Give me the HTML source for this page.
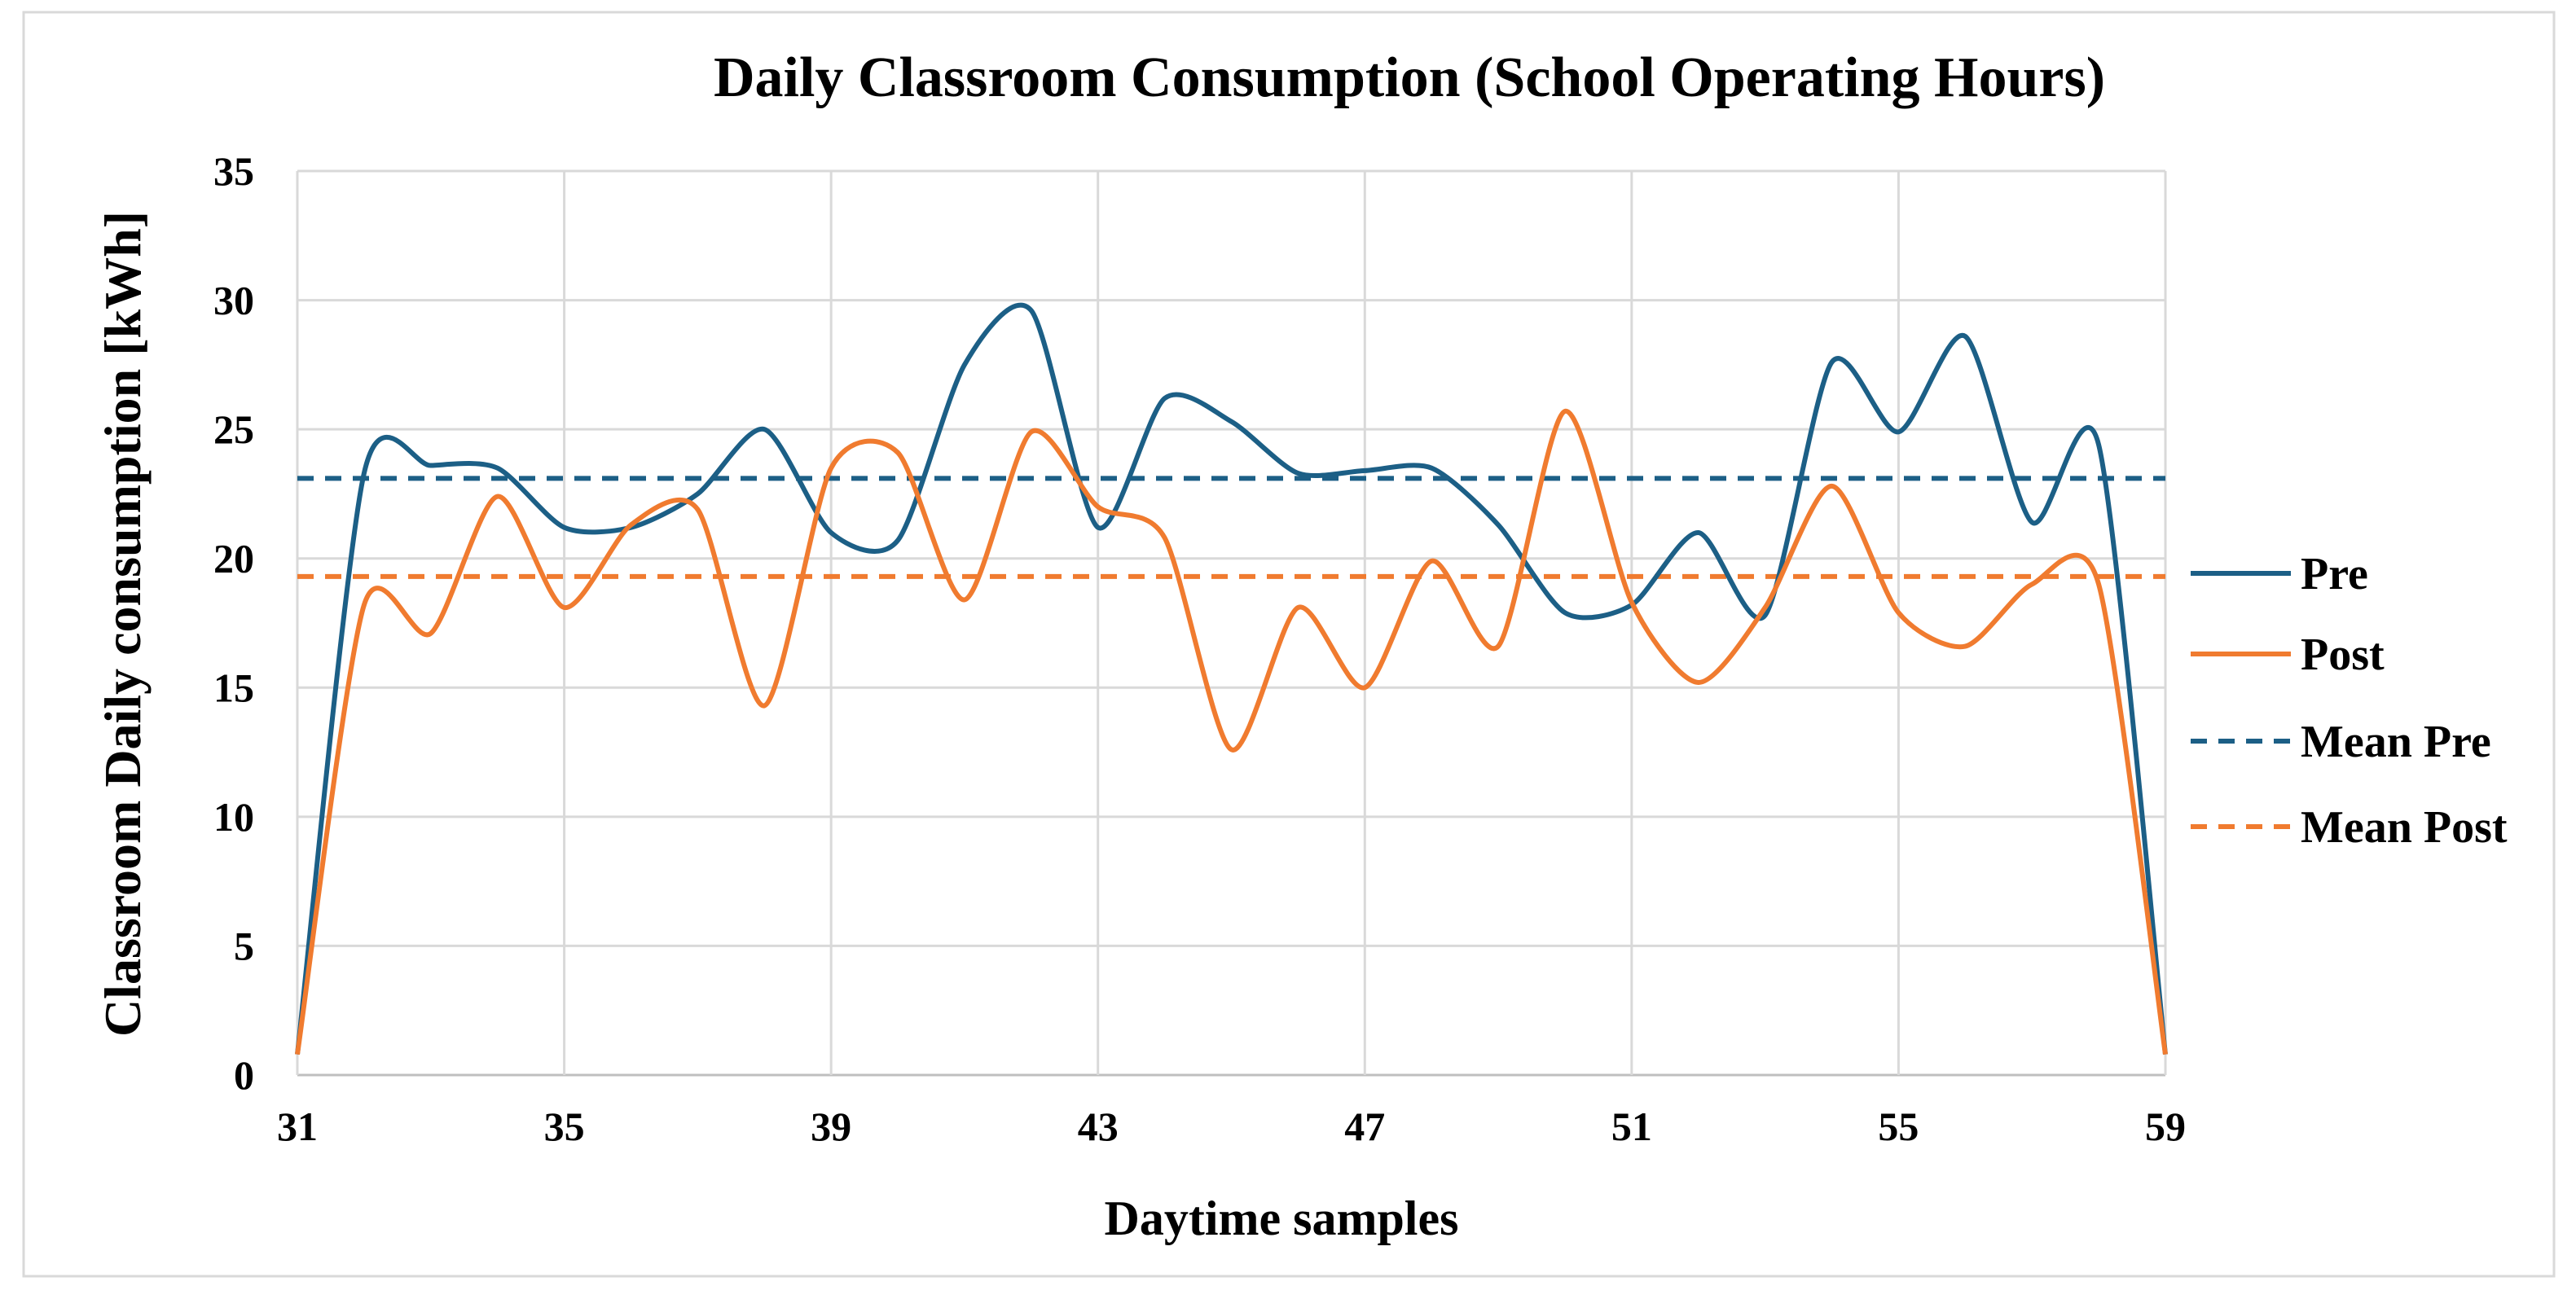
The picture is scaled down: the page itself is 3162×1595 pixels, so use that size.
<!DOCTYPE html>
<html><head><meta charset="utf-8">
<style>
html,body{margin:0;padding:0;background:#fff;}
svg{display:block;font-family:"Liberation Serif",serif;}
</style></head>
<body>
<svg id="chart" width="3162" height="1595" viewBox="0 0 3162 1595" xmlns="http://www.w3.org/2000/svg">
<rect x="29" y="15" width="3106" height="1552" fill="#fff" stroke="#d9d9d9" stroke-width="3"/>
<text x="1730" y="118" text-anchor="middle" font-size="70" font-weight="bold" fill="#000">Daily Classroom Consumption (School Operating Hours)</text>
<g id="grid"></g>
<g id="series"></g>
<g id="ticks"></g>
<text x="1573" y="1516" text-anchor="middle" font-size="60" font-weight="bold">Daytime samples</text>
<text transform="translate(172,766) rotate(-90)" text-anchor="middle" font-size="64" font-weight="bold">Classroom Daily consumption [kWh]</text>
<g id="legend"></g>
</svg>
<script>
const xValues = [31,32,33,34,35,36,37,38,39,40,41,42,43,44,45,46,47,48,49,50,51,52,53,54,55,56,57,58,59];
const preValues = [0.8,23.3,23.6,23.5,21.2,21.2,22.5,25.0,21.0,20.7,27.5,29.6,21.2,26.2,25.3,23.3,23.4,23.5,21.3,17.9,18.2,21.0,17.8,27.6,24.9,28.6,21.4,24.4,0.8];
const postValues = [0.8,18.2,17.1,22.4,18.1,21.3,21.9,14.3,23.5,24.1,18.4,24.9,22.0,20.8,12.6,18.1,15.0,19.9,16.6,25.7,18.3,15.2,18.1,22.8,17.9,16.6,19.0,19.0,0.8];
const meanPre = [23.1];
const meanPost = [19.3];
const xTicks = [31,35,39,43,47,51,55,59];
const yTicks = [0,5,10,15,20,25,30,35];
const legendLabels = ["Pre","Post","Mean Pre","Mean Post"];

const NS="http://www.w3.org/2000/svg";
const L=365,R=2658,T=210,B=1320;
const xMin=31,xMax=59,yMin=0,yMax=35;
const xs=v=>L+(v-xMin)/(xMax-xMin)*(R-L);
const ys=v=>B-(v-yMin)/(yMax-yMin)*(B-T);
const BLUE="#1c5f86",ORANGE="#f07b2f";
function mk(tag,attrs,parent){const e=document.createElementNS(NS,tag);for(const k in attrs)e.setAttribute(k,attrs[k]);parent.appendChild(e);return e;}
const grid=document.getElementById('grid'),ticks=document.getElementById('ticks'),series=document.getElementById('series'),legend=document.getElementById('legend');

yTicks.forEach(t=>{
  const g=mk('line',{x1:L,x2:R,y1:ys(t),y2:ys(t),stroke:t===0?'#bfbfbf':'#d9d9d9','stroke-width':3},grid);
  
  
  const tx=mk('text',{x:312,y:ys(t)+17,'text-anchor':'end','font-size':50,'font-weight':'bold'},ticks);
  tx.textContent=t;
  
  
});
xTicks.forEach(t=>{
  const g=mk('line',{x1:xs(t),x2:xs(t),y1:T,y2:B,stroke:'#d9d9d9','stroke-width':3},grid);
  
  
  const tx=mk('text',{x:xs(t),y:1400,'text-anchor':'middle','font-size':50,'font-weight':'bold'},ticks);
  tx.textContent=t;
  
  
});

function smooth(vals){
  const p=vals.map((v,i)=>[xs(xValues[i]),ys(v)]);
  let d=`M${p[0][0]},${p[0][1]}`;
  for(let i=0;i<p.length-1;i++){
    const p0=p[i-1]||p[i],p1=p[i],p2=p[i+1],p3=p[i+2]||p[i+1];
    const t=0.13;
    d+=` C${p1[0]+(p2[0]-p0[0])*t},${p1[1]+(p2[1]-p0[1])*t} ${p2[0]-(p3[0]-p1[0])*t},${p2[1]-(p3[1]-p1[1])*t} ${p2[0]},${p2[1]}`;
  }
  return d;
}
const mp=mk('line',{x1:L,x2:R,y1:ys(meanPre[0]),y2:ys(meanPre[0]),stroke:BLUE,'stroke-width':6,'stroke-dasharray':'20 14'},series);


const mq=mk('line',{x1:L,x2:R,y1:ys(meanPost[0]),y2:ys(meanPost[0]),stroke:ORANGE,'stroke-width':6,'stroke-dasharray':'20 14'},series);


const pre=mk('path',{d:smooth(preValues),fill:'none',stroke:BLUE,'stroke-width':6,'stroke-linejoin':'round'},series);


const post=mk('path',{d:smooth(postValues),fill:'none',stroke:ORANGE,'stroke-width':6,'stroke-linejoin':'round'},series);



const legY=[704,803,910,1015];
const legColors=[BLUE,ORANGE,BLUE,ORANGE];
legendLabels.forEach((lab,i)=>{
  const ln=mk('line',{x1:2689,x2:2812,y1:legY[i],y2:legY[i],stroke:legColors[i],'stroke-width':6},legend);
  if(i>=2) ln.setAttribute('stroke-dasharray','20 14');
  
  
  const tx=mk('text',{x:2824,y:legY[i]+19,'font-size':56,'font-weight':'bold'},legend);
  tx.textContent=lab;
  
  
});
</script>
</body></html>
